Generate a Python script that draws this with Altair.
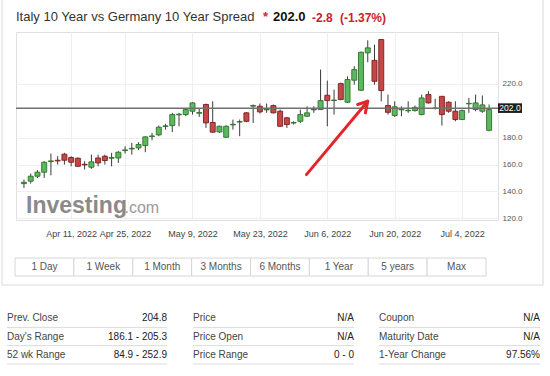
import altair as alt
import pandas as pd

# ---------------- data ----------------
opens = [145.8, 147.6, 151.3, 154.3, 162.2, 163.2, 167.7, 165.2, 164.7, 160.2,
         158.0, 164.9, 166.2, 164.7, 164.9, 170.4, 171.6, 172.4, 174.1, 180.8,
         182.1, 188.3, 189.0, 197.0, 197.2, 199.7, 198.2, 204.7, 191.3, 184.3,
         180.3, 189.5, 191.6, 198.5, 203.5, 203.4, 200.7, 203.9, 199.7, 194.8,
         190.9, 192.2, 196.0, 200.7, 200.9, 211.6, 207.7, 220.3, 206.4, 222.8,
         215.3, 243.2, 237.6, 253.1, 203.9, 196.5, 200.7, 200.0, 200.2, 197.2,
         212.1, 201.8, 210.8, 206.4, 199.7, 193.5, 205.2, 200.9, 199.7, 185.5]
highs = [148.8, 153.3, 155.8, 162.5, 168.2, 166.2, 168.7, 166.2, 165.4, 162.5,
         167.4, 167.4, 167.4, 168.7, 169.9, 173.6, 176.1, 176.6, 181.1, 183.6,
         189.0, 190.3, 198.5, 198.5, 201.7, 206.4, 201.5, 205.4, 207.1, 189.0,
         189.2, 193.5, 193.5, 199.0, 204.7, 205.4, 205.4, 204.7, 201.0, 195.5,
         192.2, 200.9, 203.4, 203.4, 230.7, 222.5, 215.8, 221.0, 225.7, 233.2,
         244.1, 252.5, 249.3, 253.4, 212.1, 207.1, 203.4, 207.1, 203.9, 212.1,
         214.6, 208.9, 210.8, 207.1, 207.1, 200.9, 209.6, 212.1, 211.4, 204.7]
lows = [142.6, 145.8, 150.0, 150.0, 152.0, 160.0, 160.0, 158.7, 158.2, 156.3,
        156.8, 158.7, 160.0, 158.7, 161.2, 168.2, 167.4, 170.7, 169.2, 178.1,
        181.1, 186.0, 184.1, 188.5, 196.0, 197.2, 195.5, 187.3, 183.6, 183.5,
        180.0, 186.0, 181.1, 191.5, 191.0, 198.0, 198.5, 198.0, 188.1, 187.3,
        189.8, 191.0, 195.5, 198.5, 200.9, 188.5, 197.2, 207.9, 205.9, 219.5,
        214.9, 236.2, 219.5, 207.1, 197.2, 195.5, 196.0, 198.5, 199.4, 196.7,
        205.4, 200.9, 189.0, 198.5, 192.2, 193.3, 198.5, 199.7, 198.5, 184.8]
closes = [146.8, 151.3, 154.3, 161.7, 162.7, 162.7, 163.2, 161.7, 158.7, 159.7,
          162.0, 161.2, 163.0, 165.2, 169.2, 170.9, 172.1, 174.9, 180.6, 181.3,
          187.8, 188.8, 197.2, 197.5, 200.9, 205.9, 198.8, 191.0, 184.1, 188.5,
          188.5, 190.0, 192.0, 192.2, 203.9, 199.2, 201.2, 198.5, 188.5, 189.8,
          191.3, 197.2, 198.5, 201.2, 207.6, 207.6, 208.0, 208.4, 223.3, 230.7,
          243.6, 246.9, 222.0, 215.1, 198.9, 203.0, 201.2, 200.4, 202.6, 209.6,
          205.9, 202.1, 197.2, 199.7, 193.5, 200.2, 205.6, 205.9, 204.4, 200.9]

date_tick_index = [7, 15, 25, 35, 45, 55, 65]
date_tick_labels = ["Apr 11, 2022", "Apr 25, 2022", "May 9, 2022", "May 23, 2022",
                    "Jun 6, 2022", "Jun 20, 2022", "Jul 4, 2022"]
y_tick_values = [120, 140, 160, 180, 220]
last_price = 202.0

# arrow annotation (in candle-index / spread units)
arrow_from_i = [41.9, 49.5, 50.65]
arrow_from_v = [152.5, 204.7, 198.5]
arrow_to_i = [51.0, 51.0, 51.0]
arrow_to_v = [207.1, 207.1, 207.1]

title_text = "Italy 10 Year vs Germany 10 Year Spread"
price_text = "202.0"
change_text = "-2.8"
change_pct_text = "(-1.37%)"

buttons = ["1 Day", "1 Week", "1 Month", "3 Months", "6 Months", "1 Year", "5 years", "Max"]

table_labels = [["Prev. Close", "Day's Range", "52 wk Range"],
                ["Price", "Price Open", "Price Range"],
                ["Coupon", "Maturity Date", "1-Year Change"]]
table_values = [["204.8", "186.1 - 205.3", "84.9 - 252.9"],
                ["N/A", "N/A", "0 - 0"],
                ["N/A", "N/A", "97.56%"]]

# ---------------- layout ----------------
FONT = "Liberation Sans"
PL, PT = 16, 32          # plot origin in the page
W, H = 482, 188          # plot area
GREEN_FILL, GREEN_LINE = "#5cb85c", "#2f6f2f"
RED_FILL, RED_LINE = "#c44848", "#7a1e1e"

candles = pd.DataFrame({
    "i": list(range(len(opens))),
    "open": opens, "high": highs, "low": lows, "close": closes,
})
candles["dir"] = ["up" if c >= o else "down" for o, c in zip(opens, closes)]

x_scale = alt.Scale(domain=[-0.44, 69.58], nice=False, zero=False)
y_scale = alt.Scale(domain=[118.7, 258.7], nice=False, zero=False)

label_expr = "[" + ",".join("'%s'" % s for s in date_tick_labels) + "][indexof([" + \
    ",".join(str(v) for v in date_tick_index) + "], datum.value)]"

x_axis = alt.Axis(values=date_tick_index, labelExpr=label_expr, ticks=False, domain=False,
                  grid=True, gridColor="#efefef", labelFont=FONT, labelFontSize=9,
                  labelColor="#444", labelPadding=9, labelOverlap=False, labelFlush=False,
                  title=None)
y_axis = alt.Axis(orient="right", values=y_tick_values, format=".1f", ticks=False, domain=False,
                  grid=True, gridColor="#efefef", labelFont=FONT, labelFontSize=8,
                  labelColor="#555", labelPadding=4, labelAlign="left", title=None)

wicks = alt.Chart(candles).mark_rule(color="#3a3a3a", strokeWidth=1).encode(
    x=alt.X("i:Q", scale=x_scale, axis=x_axis),
    y=alt.Y("low:Q", scale=y_scale, axis=y_axis),
    y2="high:Q",
)

dir_fill = alt.Scale(domain=["up", "down"], range=[GREEN_FILL, RED_FILL])
dir_line = alt.Scale(domain=["up", "down"], range=[GREEN_LINE, RED_LINE])
bodies = alt.Chart(candles).mark_bar(size=5, strokeWidth=0.9).encode(
    x="i:Q",
    y="open:Q",
    y2="close:Q",
    fill=alt.Fill("dir:N", scale=dir_fill, legend=None),
    stroke=alt.Stroke("dir:N", scale=dir_line, legend=None),
)

price_df = pd.DataFrame({"p": [last_price], "t": [price_text]})
price_line = alt.Chart(price_df).mark_rule(color="#707070", strokeWidth=1.5).encode(y="p:Q")
price_box = alt.Chart(price_df).mark_point(
    shape="M-1,-0.4H1V0.4H-1Z", size=576, filled=True, color="#1e1e1e", opacity=1
).encode(x=alt.value(W + 12), y="p:Q")
price_lbl = alt.Chart(price_df).mark_text(
    color="white", font=FONT, fontSize=8.5, align="center", baseline="middle"
).encode(x=alt.value(W + 12), y="p:Q", text="t:N")

arrow_df = pd.DataFrame({"x": arrow_from_i, "y": arrow_from_v, "x2": arrow_to_i, "y2": arrow_to_v})
arrow = alt.Chart(arrow_df).mark_rule(color="#e3262b", strokeWidth=3, strokeCap="round").encode(
    x="x:Q", y="y:Q", x2="x2:Q", y2="y2:Q"
)

# ---------------- page chrome (pixel positions relative to plot origin) ----------------
def px(v):
    return alt.X("x:Q", scale=None, axis=None) if v == "x" else alt.Y("y:Q", scale=None, axis=None)


def text_layer(rows, **kw):
    df = pd.DataFrame(rows, columns=["x", "y", "t"])
    return alt.Chart(df).mark_text(font=FONT, **kw).encode(x=px("x"), y=px("y"), text="t:N")


panel = alt.Chart(pd.DataFrame({"x": [2 - PL], "x2": [543 - PL], "y": [-1 - PT], "y2": [285 - PT]})).mark_rect(
    fill=None, stroke="#dadada", strokeWidth=1
).encode(x=px("x"), x2="x2:Q", y=px("y"), y2="y2:Q")

title = text_layer([[16 - PL, 17 - PT, title_text]], fontSize=13, color="#333", align="left", baseline="middle")
star = text_layer([[265.5 - PL, 17 - PT, "*"]], fontSize=13, fontWeight="bold", color="#d9232a",
                  align="center", baseline="middle")
price_t = text_layer([[273 - PL, 17 - PT, price_text]], fontSize=13, fontWeight="bold", color="#111",
                     align="left", baseline="middle")
chg_t = text_layer([[312 - PL, 17.5 - PT, change_text], [340 - PL, 17.5 - PT, change_pct_text]],
                   fontSize=12, fontWeight="bold", color="#c8232c", align="left", baseline="middle")

logo1 = text_layer([[26 - PL, 212.5 - PT, "Investing"]], fontSize=23, fontWeight="bold", color="#8a8a8a",
                   align="left", baseline="alphabetic")
logo2 = text_layer([[124.5 - PL, 212.5 - PT, ".com"]], fontSize=16, color="#9a9a9a",
                   align="left", baseline="alphabetic")

# buttons row
b_left, b_right, b_top, b_bot = 15, 486, 258, 276
bw = (b_right - b_left) / len(buttons)
btn_df = pd.DataFrame({
    "x": [b_left + k * bw - PL for k in range(len(buttons))],
    "x2": [b_left + (k + 1) * bw - PL for k in range(len(buttons))],
    "y": [b_top - PT] * len(buttons),
    "y2": [b_bot - PT] * len(buttons),
    "t": buttons,
})
btn_df["xc"] = (btn_df["x"] + btn_df["x2"]) / 2
btn_df["yc"] = (btn_df["y"] + btn_df["y2"]) / 2
btn_boxes = alt.Chart(btn_df).mark_rect(fill="white", stroke="#d6d6d6", strokeWidth=1).encode(
    x=px("x"), x2="x2:Q", y=px("y"), y2="y2:Q")
btn_text = alt.Chart(btn_df).mark_text(font=FONT, fontSize=10, color="#555", baseline="middle").encode(
    x=alt.X("xc:Q", scale=None, axis=None), y=alt.Y("yc:Q", scale=None, axis=None), text="t:N")

# table
col_left = [7, 193, 379]
col_right = [167, 354, 540]
row_y = [318, 336.8, 355.4]
sep_y = [327.4, 345.6, 364]
lab_rows, val_rows, sep_rows = [], [], []
for c in range(3):
    for r in range(3):
        lab_rows.append([col_left[c] - PL, row_y[r] - PT, table_labels[c][r]])
        val_rows.append([col_right[c] - PL, row_y[r] - PT, table_values[c][r]])
        sep_rows.append([col_left[c] - PL, col_right[c] - PL, sep_y[r] - PT])
tab_labels = text_layer(lab_rows, fontSize=10, color="#444", align="left", baseline="middle")
tab_values = text_layer(val_rows, fontSize=10, color="#222", align="right", baseline="middle")
sep_df = pd.DataFrame(sep_rows, columns=["x", "x2", "y"])
tab_seps = alt.Chart(sep_df).mark_rule(color="#dcdcdc", strokeWidth=1).encode(
    x=px("x"), x2="x2:Q", y=px("y"))

chart = alt.layer(
    panel, wicks, bodies, price_line, price_box, price_lbl, arrow,
    title, star, price_t, chg_t, logo1, logo2,
    btn_boxes, btn_text, tab_labels, tab_values, tab_seps,
).properties(
    width=W, height=H,
    autosize=alt.AutoSizeParams(type="none"),
    padding={"left": PL, "top": PT, "right": 550 - PL - W, "bottom": 376 - PT - H},
    background="white",
).configure_view(stroke="#e0e0e0", strokeWidth=1)

chart.save("out.html", embed_options={"renderer": "svg", "actions": False})
